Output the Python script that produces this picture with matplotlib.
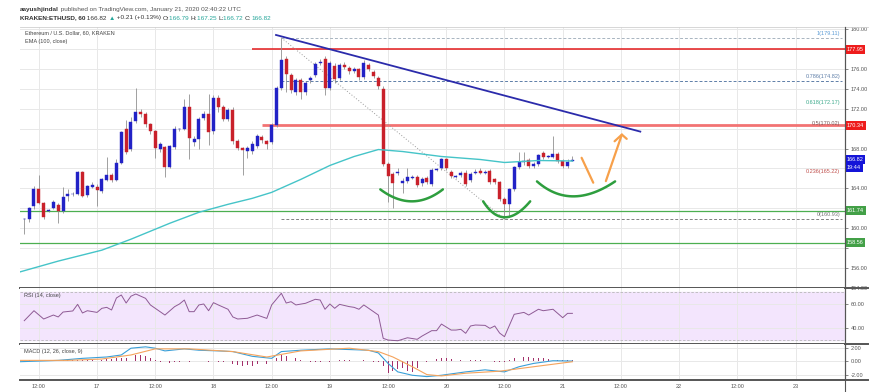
import numpy as np
import matplotlib
matplotlib.use('Agg')
import matplotlib.pyplot as plt
from matplotlib.lines import Line2D

plt.rcParams['font.family']=['Liberation Sans','DejaVu Sans']

#hourly ETHUSD candles, first candle = Jan 16 09:00 UTC (hour -15 from Jan 17 00:00)
first_hour=-15
opens=[160.9,160.97,162.2,163.97,162.5,161.75,162.07,162.33,161.73,163.23,
       163.4,163.4,165.67,163.3,164.17,164.17,163.7,164.83,165.37,164.83,
       166.5,170.0,167.97,170.8,171.63,171.43,170.47,169.73,167.97,168.17,
       166.17,168.17,169.95,170.0,172.13,168.63,168.97,171.07,171.5,169.73,
       173.07,172.13,170.97,171.9,168.73,168.07,167.8,167.8,168.3,169.2,
       168.8,168.7,170.4,174.07,176.97,175.4,173.63,174.9,173.63,174.9,
       175.4,176.6,176.97,174.07,176.3,175.07,176.4,176.1,175.8,176.0,
       175.2,176.4,175.7,175.1,174.0,166.4,165.4,165.55,164.5,164.7,
       165.05,165.1,164.5,165.0,164.4,165.85,166.0,166.9,165.6,165.15,
       165.3,165.5,164.8,165.55,165.7,165.55,165.7,164.9,164.6,162.9,
       162.4,163.9,166.1,166.65,166.8,166.2,166.4,167.6,167.2,167.2,
       167.5,166.7,166.2,166.79]
highs=[161.0,162.1,164.2,165.3,162.6,161.9,162.8,162.5,164.1,163.9,
       163.6,165.7,165.7,164.3,164.6,164.4,165.0,167.13,165.5,166.9,
       169.8,170.9,171.2,174.07,172.0,171.7,170.6,169.9,168.7,168.3,
       168.4,170.3,170.1,172.97,173.47,169.3,171.2,171.8,173.5,173.4,
       173.4,172.4,172.1,172.2,169.0,168.2,168.3,168.8,169.5,169.4,
       168.9,170.6,174.3,179.11,177.3,175.6,175.1,175.1,174.8,175.3,
       176.7,177.0,177.3,176.8,176.6,176.6,176.7,176.3,176.2,176.1,
       176.9,176.6,175.9,175.3,174.3,166.6,165.6,166.0,165.0,166.0,
       165.3,165.3,165.1,165.2,166.0,166.0,167.0,167.0,165.8,165.3,
       165.7,165.8,165.6,165.9,166.0,165.8,165.9,165.0,164.7,163.1,
       164.0,166.2,167.7,167.7,167.0,166.6,167.5,167.8,167.4,169.3,
       167.7,166.9,166.9,167.25]
lows=[159.4,160.6,161.9,162.4,160.9,161.6,161.9,160.57,161.5,162.7,
      163.2,163.3,163.1,163.1,164.0,162.23,163.5,164.7,164.6,164.7,
      166.4,167.5,167.8,170.6,171.2,170.2,169.5,167.0,167.7,165.17,
      166.0,168.0,169.8,169.9,166.9,168.3,168.0,170.9,168.4,169.5,
      171.7,170.8,170.8,168.5,167.9,165.3,167.0,167.5,168.1,168.6,
      168.0,168.5,170.2,173.9,173.7,173.6,173.4,173.0,173.4,174.6,
      175.2,176.4,173.4,173.9,174.6,174.9,176.0,175.5,175.6,174.9,
      175.0,175.8,175.1,174.0,166.2,162.6,162.0,165.3,163.5,164.5,
      164.9,164.1,164.2,164.4,164.2,165.7,165.8,165.8,165.0,165.0,
      165.1,164.2,164.6,165.4,165.4,165.4,164.4,164.4,162.7,160.93,
      161.1,163.7,165.9,166.3,166.0,166.0,166.2,166.9,167.0,167.0,
      166.5,166.0,166.0,166.72]
closes=[160.95,162.07,163.97,162.5,161.17,161.8,162.63,161.73,163.17,163.47,
        163.45,165.67,163.23,164.23,164.3,163.83,164.9,165.37,164.83,166.5,
        169.67,167.67,170.63,171.63,171.43,170.47,169.73,168.03,168.5,166.17,
        168.3,170.0,170.0,172.13,169.03,168.97,170.97,171.47,169.7,173.07,
        172.13,170.97,171.9,168.73,168.07,167.9,168.1,168.5,169.3,168.9,
        168.5,170.4,174.07,176.9,175.5,173.9,174.9,173.63,174.6,175.07,
        176.5,176.7,174.07,176.57,174.97,176.4,176.2,175.8,176.0,175.2,
        176.57,176.0,175.3,174.3,166.4,165.2,164.5,165.65,164.7,165.1,
        165.1,164.3,164.9,164.6,165.8,165.9,166.9,166.0,165.2,165.2,
        165.5,164.4,165.4,165.6,165.5,165.6,164.6,164.6,162.9,162.4,
        163.9,166.1,166.6,166.75,166.2,166.4,167.4,167.2,167.25,167.5,
        166.7,166.2,166.61,166.82]

#EMA(100)
ema_hours=[-16,-8,1,7,15,21,27,32,36,42,48,53,58,63,71,79,84,91,98]
ema_values=[155.6,156.7,157.8,158.9,160.5,161.6,162.4,163.0,163.6,164.9,166.3,167.2,167.9,167.7,167.2,166.9,166.6,166.8,166.75]

#RSI(14)
rsi_hours=[-15,-13,-11,-9,-8,-7,-5,-4,-3,-2,0,1,2,3,4,5,6,7,8,10,11,13,14,16,17,18,19,20,21,22,23,24,25,27,28,29,31,33,35,36,
           38,39,40,41,43,45,46,47,48,49,50,52,53,54,55,56,58,59,60,62,64,66,67,69,70,71,73,74,75,76,77,78,80,81,82,83,84,86,88,89,
           91,92,94,96,97,98]
rsi_values=[46.1,54.4,47.5,50.8,49.2,53.3,54.2,59.7,52.5,54.4,53.0,56.4,57.2,55.0,65.0,67.5,60.8,66.5,68.3,64.7,59.2,53.6,50.8,57.8,60.0,63.3,53.6,53.6,59.2,60.0,54.4,61.1,59.2,55.6,49.2,47.5,48.1,50.8,48.0,59.2,
            68.9,60.8,61.9,59.2,60.6,63.9,63.3,55.6,60.0,56.4,59.7,57.8,57.2,55.6,59.2,56.4,50.8,31.4,30.0,29.4,31.9,30.6,33.3,37.8,37.8,43.3,38.3,38.3,38.9,35.6,41.7,42.5,42.2,39.7,41.7,35.8,32.8,51.4,53.0,50.8,
            55.6,54.4,55.6,48.6,52.2,52.2]

#MACD(12,26,9)
macd_hours=[-16,-8,-3,2,5,7,10,12,14,18,21,25,28,32,36,38,42,48,56,58,60,62,65,68,71,76,80,84,87,90,94,98]
macd_values=[-0.1,0.1,0.4,0.6,0.9,1.9,2.1,1.9,1.5,1.8,1.6,1.5,1.4,0.7,0.4,1.4,1.6,1.8,1.6,1.2,-0.35,-1.6,-2.1,-2.3,-2.1,-1.6,-1.3,-1.6,-0.84,-0.35,0.05,0.0]
signal_hours=[-16,-6,1,7,12,19,28,35,42,52,58,61,65,68,71,76,83,90,98]
signal_values=[0.1,0.1,0.3,0.9,1.8,1.8,1.4,0.6,1.5,1.9,1.4,0.6,-0.84,-2.0,-2.2,-1.8,-1.5,-0.84,-0.1]
hist_values=[-0.2,0.1,-0.1,0.0,0.0,
             0.0,0.05,0.05,0.1,0.1,0.1,0.15,0.15,0.2,0.2,0.15,0.2,
             0.3,0.3,0.4,0.5,0.5,
             0.8,0.9,0.9,0.7,0.5,
             0.1,-0.1,-0.3,-0.3,
             -0.2,-0.1,0.0,-0.1,0.0,0.05,0.0,
             -0.1,0.0,-0.1,-0.2,-0.3,-0.4,
             -0.6,-0.7,-0.6,-0.7,-0.5,-0.5,-0.4,
             0.0,0.4,0.9,0.8,0.6,0.4,0.2,
             0.0,-0.2,-0.1,-0.2,0.0,-0.1,0.0,0.1,
             0.2,0.1,0.0,-0.1,0.1,0.0,-0.1,-0.2,
             -0.8,-1.8,-1.5,-1.2,-1.0,-1.4,-1.6,-1.0,-0.5,
             -0.2,0.0,0.3,0.4,0.4,0.3,0.2,0.1,
             0.0,0.1,0.1,0.1,0.0,0.0,-0.1,-0.2,-0.1,
             0.2,0.5,0.6,0.6,0.6,0.5,0.5,0.4,
             0.3,0.3,0.2,0.2,0.2,0.2]

#drawn levels
res_high=177.95
res_mid=170.34
sup_high=161.74
sup_low=158.56
fib_levels=[1,0.786,0.618,0.5,0.236,0]
fib_prices=[179.11,174.82,172.17,170.02,165.22,160.93]
day_labels=['17','18','19','20','21','22','23']

W,H=883,392
fig=plt.figure(figsize=(W/100,H/100),dpi=100)
fig.patch.set_facecolor('white')

def box(x0,y0,x1,y1):
    return [x0/W,1-y1/H,(x1-x0)/W,(y1-y0)/H]

ax=fig.add_axes(box(20,27,845,288))
ax_rsi=fig.add_axes(box(20,288,845,344))
ax_macd=fig.add_axes(box(20,344,845,380))

xmin,xmax=-15.88,154.2
hours=np.arange(first_hour,first_hour+len(closes))
tick_hours=np.arange(-12,150,12)
tick_labels=[]
for t in tick_hours:
    if t%24==0:
        tick_labels.append(day_labels[t//24])
    else:
        tick_labels.append('12:00')

grid_c='#e8e8e8'
axis_c='#555555'
for a in (ax,ax_rsi,ax_macd):
    a.set_xlim(xmin,xmax)
    a.set_xticks(tick_hours)
    a.grid(True,color=grid_c,lw=0.7)
    a.set_axisbelow(True)
    a.yaxis.tick_right()
    a.tick_params(axis='y',labelsize=4,colors=axis_c,length=2,pad=2,width=0.5)
    a.tick_params(axis='x',length=0)
    a.spines['left'].set_visible(False)
    a.spines['top'].set_visible(False)
    a.spines['right'].set_color(axis_c)
    a.spines['right'].set_linewidth(0.8)
    a.spines['bottom'].set_color(axis_c)
    a.spines['bottom'].set_linewidth(1.4)
ax.set_xticklabels([])
ax_rsi.set_xticklabels([])
ax_macd.set_xticklabels(tick_labels,fontsize=4,color=axis_c)
ax_macd.tick_params(axis='x',pad=3)

#main price panel
price_ticks=np.arange(154,181,2)
hidden=[158,162,166,170,178]  #covered by the coloured price tags
ax.set_ylim(154.1,180.2)
ax.set_yticks(price_ticks)
ax.set_yticklabels(['' if v in hidden else '%.2f'%v for v in price_ticks])
o=np.array(opens)
c=np.array(closes)
cols=np.where(c>=o,'#2222c6','#c9212b')
ax.vlines(hours,lows,highs,color='#909090',lw=0.6,zorder=3)
ax.bar(hours,np.maximum(np.abs(c-o),0.06),bottom=np.minimum(o,c),width=0.62,color=cols,edgecolor=cols,lw=0.3,zorder=4)
ax.plot(ema_hours,ema_values,color='#45c4c8',lw=1.0,zorder=5)

ax.hlines(res_high,32,xmax,color='#e31a1c',lw=1.1,zorder=2)
ax.hlines(res_mid,34,xmax,color='#f27373',lw=2.0,zorder=2)
ax.axhline(sup_high,color='#4caf50',lw=0.9,zorder=2)
ax.axhline(sup_low,color='#4caf50',lw=0.9,zorder=2)

#fibonacci retracement
fib_start=38
fib_line_cols={1:'#a8b4c0',0.786:'#5f7fa8',0:'#808080'}
fib_text_cols=['#5b9bd5','#5f7fa8','#3daa8c','#7a5a5a','#c0504d','#777777']
for lev,p,tc in zip(fib_levels,fib_prices,fib_text_cols):
    if lev in fib_line_cols:
        ax.hlines(p,fib_start,153.5,color=fib_line_cols[lev],lw=0.7,ls=(0,(3,2)),zorder=2)
    ax.text(153.2,p+0.2,'%g(%.2f)'%(lev,p),color=tc,fontsize=4,ha='right',va='bottom',zorder=6)
ax.plot([fib_start,84],[fib_prices[0],fib_prices[-1]],color='#9a9a9a',lw=0.7,ls=(0,(1,2)),zorder=2)

#descending trend line
ax.plot([36.9,112],[179.4,169.7],color='#2b2bab',lw=1.3,zorder=6)

#hand drawn marks
def smile(p0,pm,p2,n=30):
    t=np.linspace(0,1,n)
    p0=np.array(p0); pm=np.array(pm); p2=np.array(p2)
    cp=2*pm-(p0+p2)/2
    pts=((1-t)**2)[:,None]*p0+(2*(1-t)*t)[:,None]*cp+(t**2)[:,None]*p2
    ax.plot(pts[:,0],pts[:,1],color='#2e9e3e',lw=1.8,solid_capstyle='round',zorder=7)
smile((58.4,163.9),(64.9,162.7),(71.3,163.9))
smile((79.6,162.7),(84.1,161.1),(89.3,162.7))
smile((90.7,164.7),(98.2,163.2),(106.8,164.7))
orange='#f7a04a'
ax.plot([99.9,102.3],[167.07,164.57],color=orange,lw=1.6,solid_capstyle='round',zorder=7)
ax.plot([104.9,108.2],[164.73,169.4],color=orange,lw=1.6,solid_capstyle='round',zorder=7)
ax.plot([106.7,108.2,109.2],[168.73,169.4,168.97],color=orange,lw=1.6,solid_capstyle='round',solid_joinstyle='round',zorder=7)

#price labels on the axis
def price_tag(a,p,s,fc):
    a.text(1.002,p,s,transform=a.get_yaxis_transform(),fontsize=4,color='white',ha='left',va='center',
           bbox=dict(boxstyle='square,pad=0.35',fc=fc,ec='none'),clip_on=False,zorder=10)
price_tag(ax,res_high,'177.95','#ee1c1c')
price_tag(ax,res_mid,'170.34','#ee1c1c')
price_tag(ax,closes[-1]+0.1,'166.82','#1414d8')
price_tag(ax,closes[-1]-0.7,'19:44','#1414d8')
price_tag(ax,sup_high,'161.74','#43a047')
price_tag(ax,sup_low,'158.56','#43a047')

#rsi panel
ax_rsi.set_ylim(26.7,73.3)
ax_rsi.set_yticks([40,60])
ax_rsi.set_yticklabels(['40.00','60.00'])
ax_rsi.axhspan(30,70,color='#f3e5fd',zorder=0)
ax_rsi.axhline(70,color='#b8b8b8',lw=0.6,ls=(0,(3,2)))
ax_rsi.axhline(30,color='#b8b8b8',lw=0.6,ls=(0,(3,2)))
ax_rsi.plot(rsi_hours,rsi_values,color='#8e5a94',lw=0.7,zorder=3)

#macd panel
ax_macd.set_ylim(-2.8,2.52)
ax_macd.set_yticks([-2,0,2])
ax_macd.set_yticklabels(['-2.00','0.00','2.00'])
ax_macd.bar(hours,hist_values,width=0.18,color='#a3306a',zorder=2)
ax_macd.plot(macd_hours,macd_values,color='#3a9fd8',lw=0.8,zorder=3)
ax_macd.plot(signal_hours,signal_values,color='#f5a35c',lw=0.8,zorder=3)

#texts
def ftext(x,y,s,**kw):
    return fig.text(x/W,1-y/H,s,va='center',**kw)
renderer=fig.canvas.get_renderer()
def run_text(x,y,parts,size=4.6):
    for s,col,wt in parts:
        t=ftext(x,y,s,color=col,fontsize=size,fontweight=wt)
        x+=t.get_window_extent(renderer).width

dark='#333333'
teal='#26a69a'
run_text(20,9,[('aayushjindal',dark,'bold'),(' published on TradingView.com, January 21, 2020 02:40:22 UTC','#555555','normal')])
run_text(20,18,[('KRAKEN:ETHUSD, 60',dark,'bold'),(' 166.82 ',dark,'normal'),('\u25b2','#26a69a','normal'),(' +0.21 (+0.13%) ',dark,'normal'),
                ('O:',dark,'normal'),('166.79 ',teal,'normal'),('H:',dark,'normal'),('167.25 ',teal,'normal'),
                ('L:',dark,'normal'),('166.72 ',teal,'normal'),('C:',dark,'normal'),('166.82',teal,'normal')])
ftext(25,33,'Ethereum / U.S. Dollar, 60, KRAKEN',fontsize=4,color='#444444')
ftext(25,42,'EMA (100, close)',fontsize=4,color='#444444')
ftext(24,296,'RSI (14, close)',fontsize=4,color='#444444')
ftext(24,352,'MACD (12, 26, close, 9)',fontsize=4,color='#444444')

#frame lines
fig.add_artist(Line2D([20/W,868/W],[1-27/H,1-27/H],color='#d0d0d0',lw=0.6))
for yy in (288,344,380):
    fig.add_artist(Line2D([845/W,868/W],[1-yy/H,1-yy/H],color=axis_c,lw=1.4))
fig.add_artist(Line2D([845/W,845/W],[0,1-27/H],color=axis_c,lw=0.8))

fig.savefig('out.png',dpi=100)
